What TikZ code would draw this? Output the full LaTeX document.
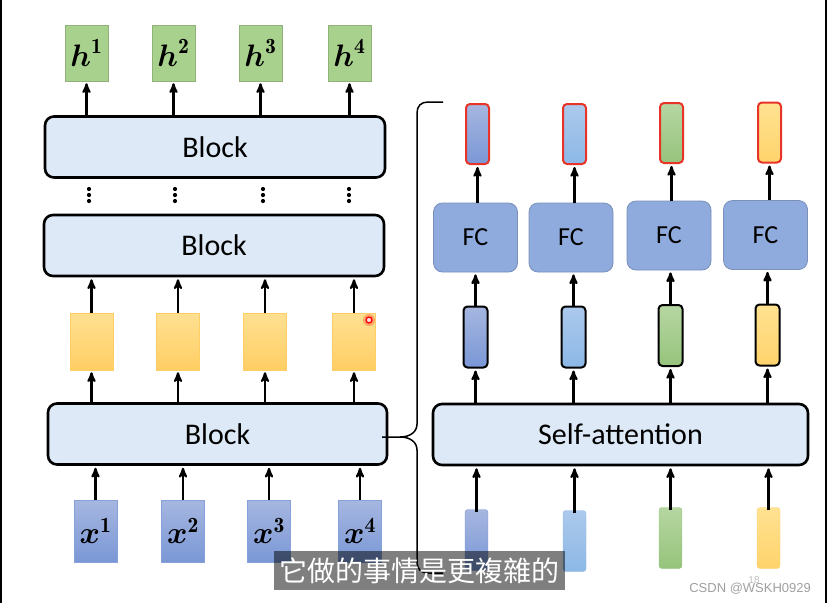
\documentclass[tikz,border=0pt]{standalone}
\usepackage{fix-cm}
\usepackage{amsmath}
\usepackage{fontspec}
\setsansfont{Carlito}
\newfontfamily\cjkfont{Noto Sans CJK TC}
\newfontfamily\markfont{Liberation Sans}
\usetikzlibrary{arrows}
\definecolor{blkfill}{RGB}{221,233,246}
\definecolor{hgreen}{RGB}{169,209,142}
\definecolor{fcblue}{RGB}{143,170,220}
\definecolor{redline}{RGB}{232,52,40}
\tikzset{
	box/.style = {align=center, inner sep=0pt, text centered, font=\sffamily},
	blk_n/.style = {box, rectangle, rounded corners=9pt, draw=black, line width=2.6pt,
		fill=blkfill, minimum height=61pt, font=\sffamily\fontsize{30}{30}\selectfont},% gros bloc
	vec_h/.style = {box, rectangle, fill=hgreen, draw=hgreen!85!black, line width=0.5pt,
		minimum width=43pt, minimum height=56pt, font=\fontsize{31}{31}\selectfont},% sortie h
	vec_x/.style = {box, rectangle, top color=blue1t, bottom color=blue1b, draw=blue1b!90!white,
		line width=0.5pt, minimum width=43pt, minimum height=62pt, font=\fontsize{31}{31}\selectfont},% entree x
	vec_y/.style = {box, rectangle, top color=yel0t, bottom color=yel0b, draw=yel0b,
		line width=0.5pt, minimum width=43pt, minimum height=57pt},% vecteur jaune
	fc_n/.style = {box, rectangle, rounded corners=9pt, fill=fcblue, draw=fcblue!85!black,
		line width=0.8pt, minimum width=84pt, minimum height=69pt, font=\sffamily\fontsize{26}{26}\selectfont},% FC
	bar_o/.style = {box, rectangle, rounded corners=4pt, draw=redline, line width=2pt,
		minimum width=23pt, minimum height=60pt},% barre sortie, bord rouge
	bar_m/.style = {box, rectangle, rounded corners=4pt, draw=black, line width=2pt,
		minimum width=24pt, minimum height=61pt},% barre milieu, bord noir
	bar_i/.style = {box, rectangle, rounded corners=3pt, line width=0.4pt,
		minimum width=23pt, minimum height=61pt},% barre entree
	c1/.style = {top color=blue1t, bottom color=blue1b},
	c2/.style = {top color=blue2t, bottom color=blue2b},
	c3/.style = {top color=green3t, bottom color=green3b},
	c4/.style = {top color=yel4t, bottom color=yel4b}
}
\definecolor{blue1t}{RGB}{166,182,224}
\definecolor{blue1b}{RGB}{122,151,214}
\definecolor{blue2t}{RGB}{172,201,236}
\definecolor{blue2b}{RGB}{140,184,230}
\definecolor{green3t}{RGB}{182,214,162}
\definecolor{green3b}{RGB}{150,196,124}
\definecolor{yel4t}{RGB}{255,226,145}
\definecolor{yel4b}{RGB}{255,211,108}
\definecolor{yel0t}{RGB}{255,224,145}
\definecolor{yel0b}{RGB}{255,206,100}

\begin{document}
\begin{tikzpicture}[->,>=stealth',x=1pt,y=-1pt,line width=2.2pt,shorten >=2pt]
\useasboundingbox (0,0) rectangle (827,603);
% pile de gauche
\node [vec_h] (h1) at (86.5,53) {$\boldsymbol{h}^{\mathbf{1}}$};
\node [vec_h] (h2) at (173.5,53) {$\boldsymbol{h}^{\mathbf{2}}$};
\node [vec_h] (h3) at (260.5,53) {$\boldsymbol{h}^{\mathbf{3}}$};
\node [vec_h] (h4) at (349.5,53) {$\boldsymbol{h}^{\mathbf{4}}$};
\node [blk_n, minimum width=340pt] (blk3) at (215,147) {Block};
\node [blk_n, minimum width=340pt] (blk2) at (214,245.5) {Block};
\node [vec_y] (y1) at (91.5,341.5) {};
\node [vec_y] (y2) at (178,341.5) {};
\node [vec_y] (y3) at (265,341.5) {};
\node [vec_y] (y4) at (354,341.5) {};
\node [blk_n, minimum width=339pt] (blk1) at (217.5,434) {Block};
\node [vec_x] (x1) at (95.5,531) {$\boldsymbol{x}^{\mathbf{1}}$};
\node [vec_x] (x2) at (183,531) {$\boldsymbol{x}^{\mathbf{2}}$};
\node [vec_x] (x3) at (269,531) {$\boldsymbol{x}^{\mathbf{3}}$};
\node [vec_x] (x4) at (360,531) {$\boldsymbol{x}^{\mathbf{4}}$};
\foreach \i in {1,...,4}{
	\draw (x\i.north) -- (x\i.north |- blk1.south);
	\draw (y\i.south |- blk1.north) -- (y\i.south);
	\draw (y\i.north) -- (y\i.north |- blk2.south);
	\draw (h\i.south |- blk3.north) -- (h\i.south);
}
\foreach \dx in {89,175,263,349}
	\foreach \dy in {189,195,201}
		\fill [-] (\dx,\dy) circle (2.1pt);
% curseur
\fill [-, red, opacity=0.25] (369,320) circle (6pt);
\node [circle, draw=red, line width=1.3pt, fill=red!15, minimum size=6pt, inner sep=0pt] (cur) at (369,320) {};
% accolade
\draw [-, line width=1.5pt] (443,102) -- (428,102) .. controls (421,102) and (417,106) .. (417,113)
	-- (417,424) .. controls (417,432) and (410,437) .. (400,437) -- (380,437);
\draw [-, line width=1.5pt] (400,437) .. controls (410,437) and (417,442) .. (417,450)
	-- (417,562) .. controls (417,569) and (421,573) .. (428,573) -- (445,573);
% detail du bloc
\node [bar_o, c1] (o1) at (477.5,134) {};
\node [bar_o, c2] (o2) at (574.5,134) {};
\node [bar_o, c3] (o3) at (671.5,133) {};
\node [bar_o, c4] (o4) at (769.5,132.5) {};
\node [fc_n] (f1) at (475.5,237.5) {FC};
\node [fc_n] (f2) at (571,237.5) {FC};
\node [fc_n] (f3) at (669,235.5) {FC};
\node [fc_n] (f4) at (765.5,235) {FC};
\node [bar_m, c1] (m1) at (475.5,337) {};
\node [bar_m, c2] (m2) at (573.5,337) {};
\node [bar_m, c3] (m3) at (670.5,335.5) {};
\node [bar_m, c4] (m4) at (767.5,335) {};
\node [blk_n, minimum width=375pt] (sa) at (620.5,434.5) {Self-attention};
\node [bar_i, c1, draw=blue1b] (i1) at (476.5,540) {};
\node [bar_i, c2, draw=blue2b] (i2) at (574.5,541) {};
\node [bar_i, c3, draw=green3b] (i3) at (670.5,538) {};
\node [bar_i, c4, draw=yel4b] (i4) at (768.5,538) {};
\foreach \i in {1,...,4}{
	\draw ([yshift=-3pt]i\i.north) -- (i\i.north |- sa.south);
	\draw (m\i.south |- sa.north) -- (m\i.south);
	\draw (m\i.north) -- (m\i.north |- f\i.south);
	\draw (o\i.south |- f\i.north) -- (o\i.south);
}
% sous-titre et marques
\node [box, fill=black, fill opacity=0.5, text opacity=1, text=white, minimum width=291pt,
	minimum height=39pt, font=\cjkfont\fontsize{28}{28}\selectfont] (sub) at (419.5,570.5) {它做的事情是更複雜的};
\node [box, text=gray!75, font=\markfont\fontsize{13}{13}\selectfont, anchor=east] (csdn) at (812,589) {CSDN @WSKH0929};
\node [box, text=gray!50, font=\markfont\fontsize{10}{10}\selectfont] (pg) at (754,580) {18};
\draw [-, line width=1.5pt, shorten >=0pt] (0.75,0) -- (0.75,603);
\draw [-, line width=1.5pt, shorten >=0pt] (826,0) -- (826,603);
\end{tikzpicture}
\end{document}
